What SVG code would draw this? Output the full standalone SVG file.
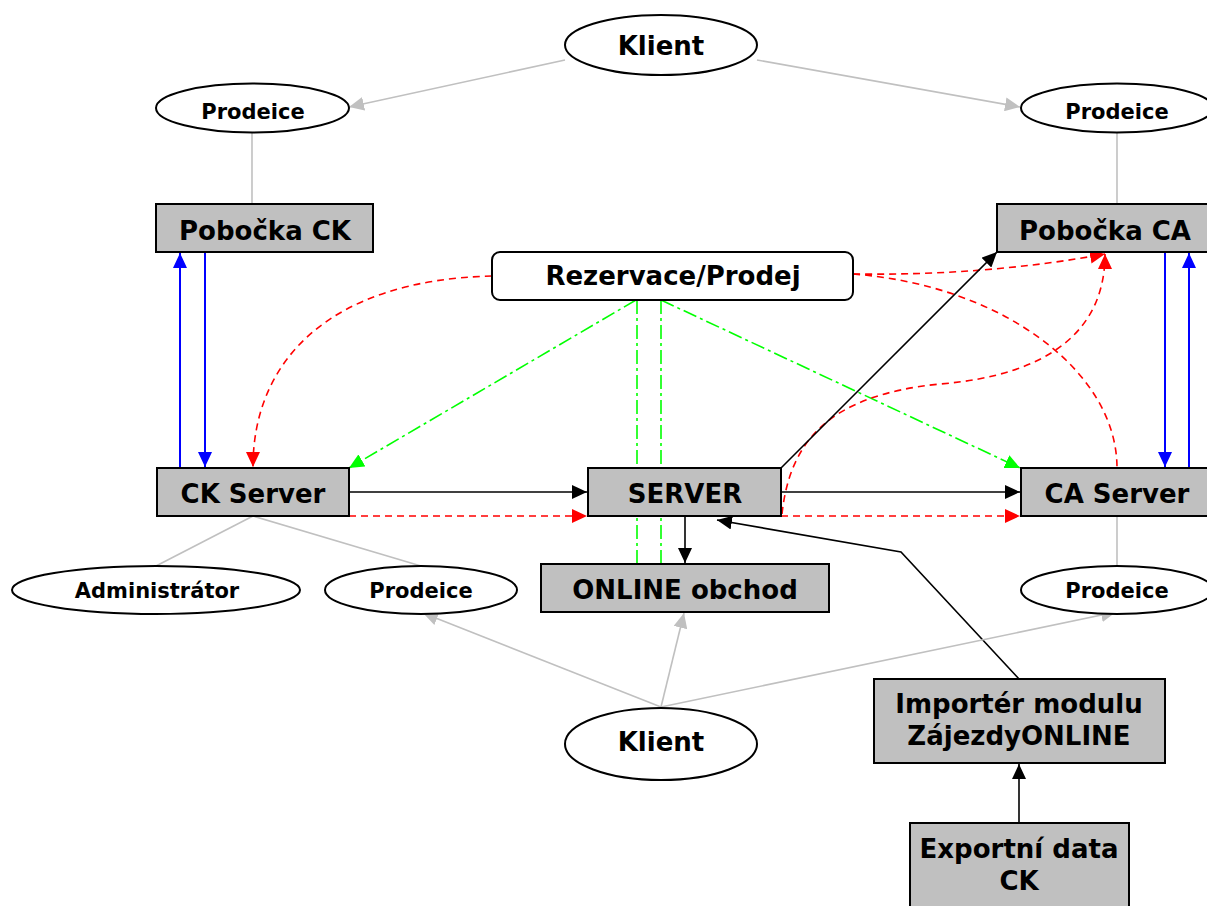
<svg xmlns="http://www.w3.org/2000/svg" width="1207" height="906" viewBox="0 0 1207 906">
<style>
.box{fill:#c0c0c0;stroke:#000;stroke-width:2}
.ell{fill:#fff;stroke:#000;stroke-width:2}
.t{font-family:"DejaVu Sans","Verdana",sans-serif;font-weight:bold;fill:#000;text-anchor:middle}
.big{font-size:26px}
.sm{font-size:21px}
.k{stroke:#000;stroke-width:1.6;fill:none}
.g{stroke:#c0c0c0;stroke-width:1.6;fill:none}
.b{stroke:#0000ff;stroke-width:2;fill:none}
.r{stroke:#ff0000;stroke-width:1.6;fill:none;stroke-dasharray:7,5}
.gr{stroke:#00ff00;stroke-width:1.6;fill:none;stroke-dasharray:14,4,3,4}
</style>
<defs>
<marker id="ak" markerUnits="userSpaceOnUse" markerWidth="16" markerHeight="14" refX="15" refY="7" orient="auto"><path d="M0,0 L15,7 L0,14 z" fill="#000"/></marker>
<marker id="ag" markerUnits="userSpaceOnUse" markerWidth="16" markerHeight="14" refX="15" refY="7" orient="auto"><path d="M0,0 L15,7 L0,14 z" fill="#c0c0c0"/></marker>
<marker id="ab" markerUnits="userSpaceOnUse" markerWidth="16" markerHeight="14" refX="15" refY="7" orient="auto"><path d="M0,0 L15,7 L0,14 z" fill="#0000ff"/></marker>
<marker id="ar" markerUnits="userSpaceOnUse" markerWidth="16" markerHeight="14" refX="15" refY="7" orient="auto"><path d="M0,0 L15,7 L0,14 z" fill="#ff0000"/></marker>
<marker id="agr" markerUnits="userSpaceOnUse" markerWidth="16" markerHeight="14" refX="15" refY="7" orient="auto"><path d="M0,0 L15,7 L0,14 z" fill="#00ff00"/></marker>
</defs>
<rect width="1207" height="906" fill="#fff"/>
<g id="connectors">
<line class="g" x1="565" y1="60" x2="349" y2="107" marker-end="url(#ag)"/>
<line class="g" x1="757" y1="60" x2="1020" y2="107" marker-end="url(#ag)"/>
<line class="g" x1="252" y1="132" x2="252" y2="204"/>
<line class="g" x1="1117" y1="132" x2="1117" y2="204"/>
<line class="b" x1="180" y1="468" x2="180" y2="253" marker-end="url(#ab)"/>
<line class="b" x1="205" y1="252" x2="205" y2="467" marker-end="url(#ab)"/>
<line class="b" x1="1165" y1="252" x2="1165" y2="467" marker-end="url(#ab)"/>
<line class="b" x1="1189" y1="468" x2="1189" y2="253" marker-end="url(#ab)"/>
<line class="gr" x1="637" y1="300" x2="637" y2="564"/>
<line class="gr" x1="661" y1="300" x2="661" y2="564"/>
<line class="gr" x1="636" y1="300" x2="349" y2="468" marker-end="url(#agr)"/>
<line class="gr" x1="661" y1="300" x2="1020" y2="468" marker-end="url(#agr)"/>
<path class="r" d="M492,276 C330,280 253,360 253,467" marker-end="url(#ar)"/>
<path class="r" d="M853,274 Q985,276 1105,254" marker-end="url(#ar)"/>
<path class="r" d="M853,274 C1000,285 1117,370 1117,468"/>
<path class="r" d="M782,514 C790,440 830,395 940,384 C1050,375 1105,330 1105,254" marker-end="url(#ar)"/>
<line class="r" x1="349" y1="516" x2="587" y2="516" marker-end="url(#ar)"/>
<line class="r" x1="781" y1="516" x2="1020" y2="516" marker-end="url(#ar)"/>
<line class="k" x1="349" y1="492" x2="587" y2="492" marker-end="url(#ak)"/>
<line class="k" x1="781" y1="492" x2="1020" y2="492" marker-end="url(#ak)"/>
<line class="k" x1="781" y1="468" x2="997" y2="252" marker-end="url(#ak)"/>
<line class="k" x1="685" y1="516" x2="685" y2="563" marker-end="url(#ak)"/>
<polyline class="k" points="1019,679 901,552 717,520" marker-end="url(#ak)"/>
<line class="k" x1="1019" y1="823" x2="1019" y2="764" marker-end="url(#ak)"/>
<line class="g" x1="253" y1="516" x2="156" y2="566"/>
<line class="g" x1="253" y1="516" x2="421" y2="566"/>
<line class="g" x1="1117" y1="516" x2="1117" y2="566"/>
<line class="g" x1="661" y1="707" x2="423" y2="613" marker-end="url(#ag)"/>
<line class="g" x1="661" y1="707" x2="684" y2="613" marker-end="url(#ag)"/>
<line class="g" x1="661" y1="707" x2="1116" y2="612" marker-end="url(#ag)"/>
</g>
<g id="klient-top"><ellipse class="ell" cx="661" cy="45" rx="96" ry="30"/><text class="t big" x="661" y="55">Klient</text></g>
<g id="prodeice-l"><ellipse class="ell" cx="252.5" cy="108" rx="96.5" ry="24.5"/><text class="t sm" x="253" y="119">Prodeice</text></g>
<g id="prodeice-r"><ellipse class="ell" cx="1117" cy="108" rx="96" ry="24.5"/><text class="t sm" x="1117" y="119">Prodeice</text></g>
<g id="pobocka-ck"><rect class="box" x="156" y="204" width="217" height="48"/><text class="t big" x="265" y="240">Pobočka CK</text></g>
<g id="pobocka-ca"><rect class="box" x="997" y="204" width="217" height="48"/><text class="t big" x="1105" y="240">Pobočka CA</text></g>
<g id="rezervace"><rect x="492" y="252" width="361" height="48" rx="8" fill="#fff" stroke="#000" stroke-width="2"/><text class="t big" x="673" y="285">Rezervace/Prodej</text></g>
<g id="ck-server"><rect class="box" x="157" y="468" width="192" height="48"/><text class="t big" x="253" y="503">CK Server</text></g>
<g id="server"><rect class="box" x="588" y="468" width="193" height="48"/><text class="t big" x="685" y="503">SERVER</text></g>
<g id="ca-server"><rect class="box" x="1021" y="468" width="193" height="48"/><text class="t big" x="1117" y="503">CA Server</text></g>
<g id="online"><rect class="box" x="541" y="564" width="288" height="48"/><text class="t big" x="685" y="599">ONLINE obchod</text></g>
<g id="admin"><ellipse class="ell" cx="156" cy="590" rx="144" ry="24"/><text class="t sm" x="157" y="598">Administrátor</text></g>
<g id="prodeice-m"><ellipse class="ell" cx="421" cy="590" rx="96" ry="24"/><text class="t sm" x="421" y="598">Prodeice</text></g>
<g id="prodeice-b"><ellipse class="ell" cx="1117" cy="590" rx="96" ry="24"/><text class="t sm" x="1117" y="598">Prodeice</text></g>
<g id="klient-bottom"><ellipse class="ell" cx="661" cy="744" rx="96" ry="36"/><text class="t big" x="661" y="751">Klient</text></g>
<g id="importer"><rect class="box" x="874" y="679" width="291" height="84"/><text class="t big" x="1019" y="713">Importér modulu</text><text class="t big" x="1019" y="745">ZájezdyONLINE</text></g>
<g id="export"><rect class="box" x="910" y="823" width="219" height="90"/><text class="t big" x="1019" y="858">Exportní data</text><text class="t big" x="1019" y="890">CK</text></g>
</svg>
